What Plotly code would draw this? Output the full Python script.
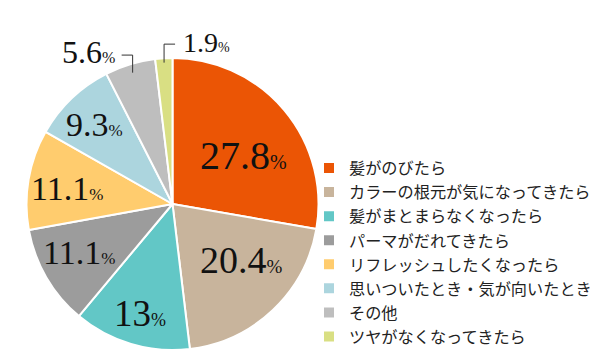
import math
import plotly.graph_objects as go

# ---- data ----
categories = [
    "髪がのびたら",
    "カラーの根元が気になってきたら",
    "髪がまとまらなくなったら",
    "パーマがだれてきたら",
    "リフレッシュしたくなったら",
    "思いついたとき・気が向いたとき",
    "その他",
    "ツヤがなくなってきたら",
]
values = [27.8, 20.4, 13, 11.1, 11.1, 9.3, 5.6, 1.9]
value_labels = ["27.8", "20.4", "13", "11.1", "11.1", "9.3", "5.6", "1.9"]

# ---- styles ----
colors = ["#EB5505", "#C8B49C", "#62C7C6", "#9C9C9C", "#FFCC6E", "#ACD5DE", "#BEBEBE", "#D9DF83"]
label_size = [40, 38, 37, 34, 34, 34, 32, 28]
label_r = [0.59, 0.61, 0.78, 0.72, 0.73, 0.76, 1.19, 1.13]      # fraction of radius
label_dang = [5.7, -7.2, 0.3, 3.0, -1.1, -0.8, -12.2, 15.4]     # degrees offset from slice middle
leader = [None, None, None, None, None, None, (0.94, 1.02, -11), (0.97, 1.095, 11)]

W, H = 600, 354
CX, CY, R = 172.5, 204.0, 146.0
SERIF = "Liberation Serif, Times New Roman, DejaVu Serif, serif"


def px_to_paper(x, y):
    return x / W, 1 - y / H


fig = go.Figure()
fig.add_trace(go.Pie(
    labels=categories,
    values=values,
    sort=False,
    direction="clockwise",
    rotation=0,
    marker=dict(colors=colors, line=dict(color="white", width=2)),
    textinfo="none",
    hoverinfo="label+value",
    domain=dict(x=[(CX - R) / W, (CX + R) / W], y=[1 - (CY + R) / H, 1 - (CY - R) / H]),
))

total = sum(values)
cum = 0.0
annotations = []
shapes = []
for i, v in enumerate(values):
    mid = (cum + v / 2) / total * 360.0
    cum += v
    ang = math.radians(mid + label_dang[i])
    lx = CX + label_r[i] * R * math.sin(ang)
    ly = CY - label_r[i] * R * math.cos(ang)
    px, py = px_to_paper(lx, ly)
    s = label_size[i]
    annotations.append(dict(
        x=px, y=py, xref="paper", yref="paper", xanchor="center", yanchor="middle",
        showarrow=False,
        text=f"{value_labels[i]}<span style='font-size:{round(s*0.5)}px'>%</span>",
        font=dict(family=SERIF, size=s, color="#111111"),
    ))
    if leader[i]:
        rs, ey, dx = leader[i]
        a = math.radians(mid)
        sx = CX + rs * R * math.sin(a)
        sy = CY - rs * R * math.cos(a)
        eyp = CY - ey * R
        pts = [(sx, sy), (sx, eyp), (sx + dx, eyp)]
        path = "M " + " L ".join(f"{x/W:.5f},{1 - y/H:.5f}" for x, y in pts)
        shapes.append(dict(type="path", xref="paper", yref="paper", path=path,
                           line=dict(color="#333333", width=1)))

fig.update_layout(
    width=W, height=H,
    margin=dict(l=0, r=0, t=0, b=0, autoexpand=False),
    paper_bgcolor="white",
    plot_bgcolor="white",
    showlegend=True,
    legend=dict(
        x=309 / W, y=1 - 151 / H, xanchor="left", yanchor="top",
        font=dict(family="Noto Sans CJK JP", size=16.2, color="#222222"),
        bgcolor="rgba(0,0,0,0)",
        traceorder="normal",
    ),
    annotations=annotations,
    shapes=shapes,
)

fig.write_html("out.html")
